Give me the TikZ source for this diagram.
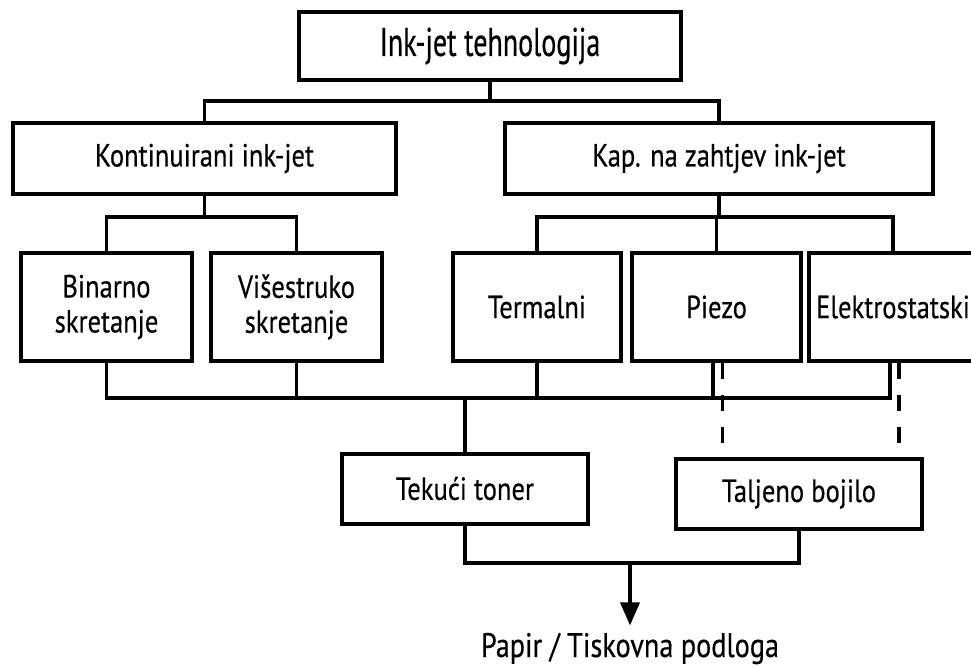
\documentclass[tikz,border=0pt]{standalone}
\usepackage{fontspec}
\setmainfont{PT Sans}[FakeStretch=0.83,FakeBold=0.4]
\newfontfamily\topfont{PT Sans}[FakeStretch=0.7,FakeBold=0.4]
\usetikzlibrary{arrows.meta,calc}
\begin{document}
\begin{tikzpicture}[x=0.5pt,y=-0.5pt,
  box/.style={draw,line width=2pt,inner sep=0pt,align=center,font=\fontsize{16}{17.5}\selectfont},
  conn/.style={line width=1.8pt},
  dconn/.style={line width=1.8pt,dash pattern=on 8pt off 8pt}]
\clip (0,0) rectangle (971,666);
\fill[white] (0,0) rectangle (971,666);
% boxes
\node[box,minimum width=191pt,minimum height=34pt,font=\topfont\fontsize{20}{22}\selectfont] (top) at (490,46) {Ink-jet tehnologija};
\node[box,minimum width=191.5pt,minimum height=35.5pt] (kont) at (204.5,158.5) {Kontinuirani ink-jet};
\node[box,minimum width=214pt,minimum height=35.5pt] (kap) at (719,158.5) {Kap. na zahtjev ink-jet};
\node[box,minimum width=85.5pt,minimum height=54pt] (bin) at (106.5,307) {Binarno\\skretanje};
\node[box,minimum width=85.5pt,minimum height=54pt] (vis) at (296.5,307) {Višestruko\\skretanje};
\node[box,minimum width=84pt,minimum height=54pt] (term) at (537,307) {Termalni};
\node[box,minimum width=84.5pt,minimum height=54pt] (piezo) at (716.5,307) {Piezo};
\node[box,minimum width=84.5pt,minimum height=54pt] (elek) at (893,307) {Elektrostatski};
\node[box,minimum width=123pt,minimum height=35pt] (tek) at (465,488.5) {Tekući toner};
\node[box,minimum width=123pt,minimum height=35pt] (tal) at (799,494) {Taljeno bojilo};
\node[inner sep=0pt,anchor=base,font=\fontsize{17}{20}\selectfont] (papir) at (630,657) {Papir / Tiskovna podloga};
% connectors top
\coordinate (j1) at (490,101);
\draw[conn] (top.south) -- (j1);
\draw[conn] (kont.north) |- (j1) -| (kap.north);
\coordinate (j2) at (204.5,217);
\draw[conn] (kont.south) -- (j2);
\draw[conn] (bin.north) |- (j2) -| (vis.north);
\coordinate (j3) at (719,217);
\draw[conn] (kap.south) -- (j3);
\draw[conn] (term.north) |- (j3) -| (elek.north);
\draw[conn] (piezo.north) -- (piezo.north |- j3);
% connectors bottom
\coordinate (j4) at (465,398);
\coordinate (ps) at ($(piezo.south)+(-3.5,0)$);
\coordinate (es) at ($(elek.south)+(-3,0)$);
\coordinate (pd) at ($(piezo.south)+(6,0)$);
\coordinate (ed) at ($(elek.south)+(6,0)$);
\draw[conn] (bin.south) |- (es |- j4) -- (es);
\draw[conn] (vis.south) -- (vis.south |- j4);
\draw[conn] (term.south) -- (term.south |- j4);
\draw[conn] (ps) -- (ps |- j4);
\draw[conn] (j4) -- (tek.north);
\draw[dconn] (pd) -- ++(0,82);
\draw[dconn] (ed) -- ++(0,82);
\coordinate (j5) at (630,563);
\draw[conn] (tek.south) |- (j5) -| (tal.south);
\draw[conn,shorten >=3.5pt,-{Triangle[width=9.5pt,length=11.5pt]}] (j5) -- (papir.north);
\end{tikzpicture}
\end{document}
